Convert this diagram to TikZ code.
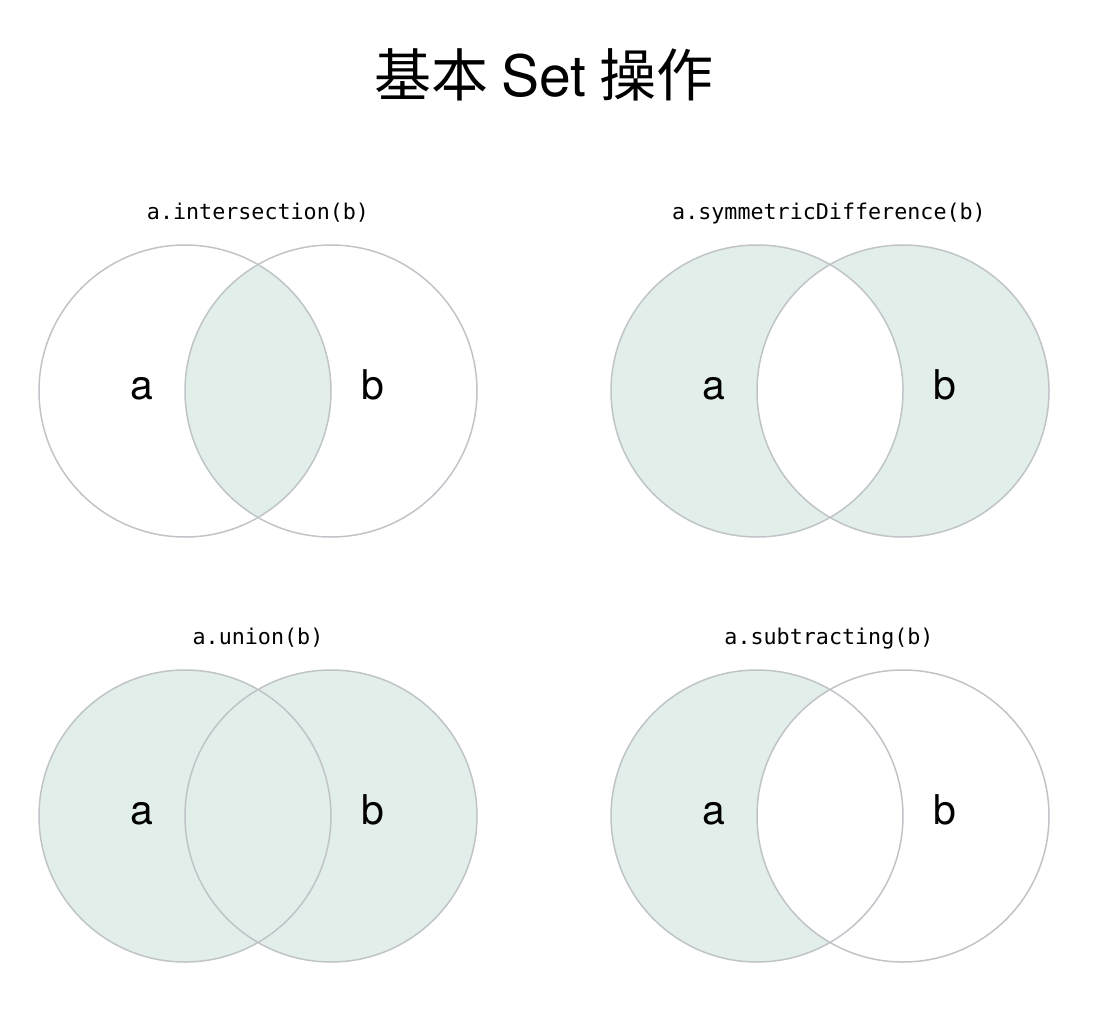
\documentclass[tikz,border=0pt]{standalone}
\usepackage{fontspec}
\setmainfont{TeX Gyre Heros}
\newfontfamily\cjkfont{Noto Sans CJK SC}
\newfontfamily\codefont{DejaVu Sans Mono}
\usepackage{xcolor}
\definecolor{setfill}{RGB}{225,238,234}
\definecolor{setline}{RGB}{192,196,200}
\tikzset{setcircle/.style={circle, draw=setline, line width=1.5pt, minimum size=292pt, inner sep=0pt, outer sep=0pt}}
\begin{document}
\begin{tikzpicture}[
        x=1pt, y=-1pt,
        setlabel/.style={anchor=base, font=\fontsize{41}{41}\selectfont},
        opname/.style={anchor=base, font=\codefont\fontsize{21.7}{22}\selectfont}
    ]
        \useasboundingbox (0,0) rectangle (1108,1014);
        % Title
        \node[anchor=base, font=\cjkfont\fontsize{57}{57}\selectfont] (title) at (544,97) {基本 {\rmfamily Set} 操作};
        % Intersection
        \begin{scope}
            \clip (185,391) circle (146);
            \fill[setfill] (331,391) circle (146);
        \end{scope}
        \node[setcircle] (ia) at (185,391) {};
        \node[setcircle] (ib) at (331,391) {};
        \node[opname] (iname) at (258,219) {a.intersection(b)};
        \node[setlabel] (ialabel) at (142,399) {a};
        \node[setlabel] (iblabel) at (373,399) {b};
        % Symmetric difference
        \fill[setfill, even odd rule] (757,391) circle (146) (903,391) circle (146);
        \node[setcircle] (sa) at (757,391) {};
        \node[setcircle] (sb) at (903,391) {};
        \node[opname] (sname) at (829,219) {a.symmetricDifference(b)};
        \node[setlabel] (salabel) at (714,399) {a};
        \node[setlabel] (sblabel) at (945,399) {b};
        % Union
        \fill[setfill] (185,816) circle (146) (331,816) circle (146);
        \node[setcircle] (ua) at (185,816) {};
        \node[setcircle] (ub) at (331,816) {};
        \node[opname] (uname) at (258,644) {a.union(b)};
        \node[setlabel] (ualabel) at (142,824) {a};
        \node[setlabel] (ublabel) at (373,824) {b};
        % Subtracting
        \begin{scope}
            \clip (757,816) circle (146);
            \fill[setfill, even odd rule] (757,816) circle (146) (903,816) circle (146);
        \end{scope}
        \node[setcircle] (da) at (757,816) {};
        \node[setcircle] (db) at (903,816) {};
        \node[opname] (dname) at (829,644) {a.subtracting(b)};
        \node[setlabel] (dalabel) at (714,824) {a};
        \node[setlabel] (dblabel) at (945,824) {b};
    \end{tikzpicture}
\end{document}
